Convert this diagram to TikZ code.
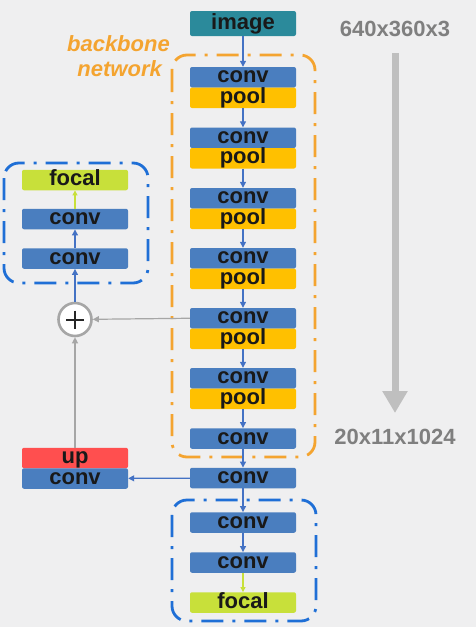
\documentclass[tikz,border=0pt]{standalone}
\usepackage{fontspec}
\setmainfont{Liberation Sans}
\usetikzlibrary{arrows.meta}
\definecolor{bgc}{HTML}{EFEFF0}
\definecolor{convc}{HTML}{4A7EBF}
\definecolor{poolc}{HTML}{FFC000}
\definecolor{imgc}{HTML}{2B8A9B}
\definecolor{focalc}{HTML}{C8E03A}
\definecolor{upc}{HTML}{FF4F4F}
\definecolor{orangec}{HTML}{F4A430}
\definecolor{dashblue}{HTML}{1F6FD6}
\definecolor{arrblue}{HTML}{4472C4}
\definecolor{graytext}{HTML}{7F7F7F}
\definecolor{grayline}{HTML}{A6A6A6}
\definecolor{bigarrow}{HTML}{BFBFBF}
\tikzset{
  blk/.style={rectangle, rounded corners=2pt, minimum width=106pt, minimum height=20.5pt,
    inner sep=0pt, text height=15.5pt, text depth=4.5pt,
    font=\fontsize{22}{22}\selectfont\bfseries, text=black!90},
  convbox/.style={blk, fill=convc},
  poolbox/.style={blk, fill=poolc},
  focalbox/.style={blk, fill=focalc},
  upbox/.style={blk, fill=upc},
  imgbox/.style={blk, fill=imgc, minimum height=25pt},
  flow/.style={draw=arrblue, line width=1.2pt, -{Triangle[length=6pt,width=6pt]}},
  gflow/.style={draw=grayline, line width=1.2pt, -{Triangle[length=6pt,width=6pt]}},
  fflow/.style={draw=focalc, line width=1.2pt, -{Triangle[length=5pt,width=5pt]}},
  dashdot/.style={line width=2.8pt, rounded corners=15pt, dash pattern=on 22pt off 9pt on 3pt off 9pt},
  dimtext/.style={font=\fontsize{22}{22}\selectfont\bfseries, text=graytext, inner sep=0pt},
  bbtext/.style={font=\fontsize{22}{22}\selectfont\bfseries\itshape, text=orangec, inner sep=0pt, anchor=east}
}
\begin{document}
\begin{tikzpicture}[x=1pt,y=-1pt]
\fill[bgc] (0,0) rectangle (476,627);
\useasboundingbox (0,0) rectangle (476,627);

% groups
\draw[dashdot, draw=orangec] (172,55) rectangle (315,457);
\draw[dashdot, draw=dashblue] (4,163) rectangle (148,283);
\draw[dashdot, draw=dashblue] (172,500) rectangle (316,621);

% main column
\node[imgbox] (img) at (243,23.5) {image};
\foreach \i/\t in {1/67,2/127.5,3/188,4/248,5/308,6/368}{
  \node[convbox] (c\i) at (243,\t+10.25) {conv};
  \node[poolbox] (p\i) at (243,\t+30.75) {pool};
}
\node[convbox] (c7) at (243,438.5) {conv};
\node[convbox] (c8) at (243,478) {conv};
\node[convbox] (c9) at (243,522.5) {conv};
\node[convbox] (c10) at (243,562.5) {conv};
\node[focalbox] (f2) at (243,602.5) {focal};

% left column
\node[upbox] (up) at (75,458) {up};
\node[convbox] (lc) at (75,478.5) {conv};
\node[convbox] (lc2) at (75,258.5) {conv};
\node[convbox] (lc1) at (75,219) {conv};
\node[focalbox] (f1) at (75,180) {focal};
\node[circle, draw=grayline, line width=2.6pt, fill=white, minimum size=33pt, inner sep=0pt] (plus) at (75,319.5) {};
\draw[line width=2pt, black!85] (66,319.5) -- (84,319.5) (75,310.5) -- (75,328.5);

% main connectors
\draw[flow] (img) -- (c1);
\draw[flow] (p1) -- (c2);
\draw[flow] (p2) -- (c3);
\draw[flow] (p3) -- (c4);
\draw[flow] (p4) -- (c5);
\draw[flow] (p5) -- (c6);
\draw[flow] (p6) -- (c7);
\draw[flow] (c7) -- (c8);
\draw[flow] (c8) -- (c9);
\draw[flow] (c9) -- (c10);
\draw[fflow] (c10) -- (f2);

% side path
\draw[flow] (c8) -- (lc);
\draw[gflow] (up) -- (plus);
\draw[gflow] (c5.west) -- (plus);
\draw[flow] (plus) -- (lc2);
\draw[flow] (lc2) -- (lc1);
\draw[fflow] (lc1) -- (f1);

% labels
\node[bbtext] (bb1) at (170,44) {backbone};
\node[bbtext] (bb2) at (162,69) {network};
\node[dimtext] (d1) at (395,29) {640x360x3};
\node[dimtext] (d2) at (395,437) {20x11x1024};
\coordinate (a0) at (395,53);
\coordinate (a1) at (395,413);
\draw[draw=bigarrow, line width=7pt, -{Triangle[length=22pt,width=24pt]}] (a0) -- (a1);
\end{tikzpicture}
\end{document}
